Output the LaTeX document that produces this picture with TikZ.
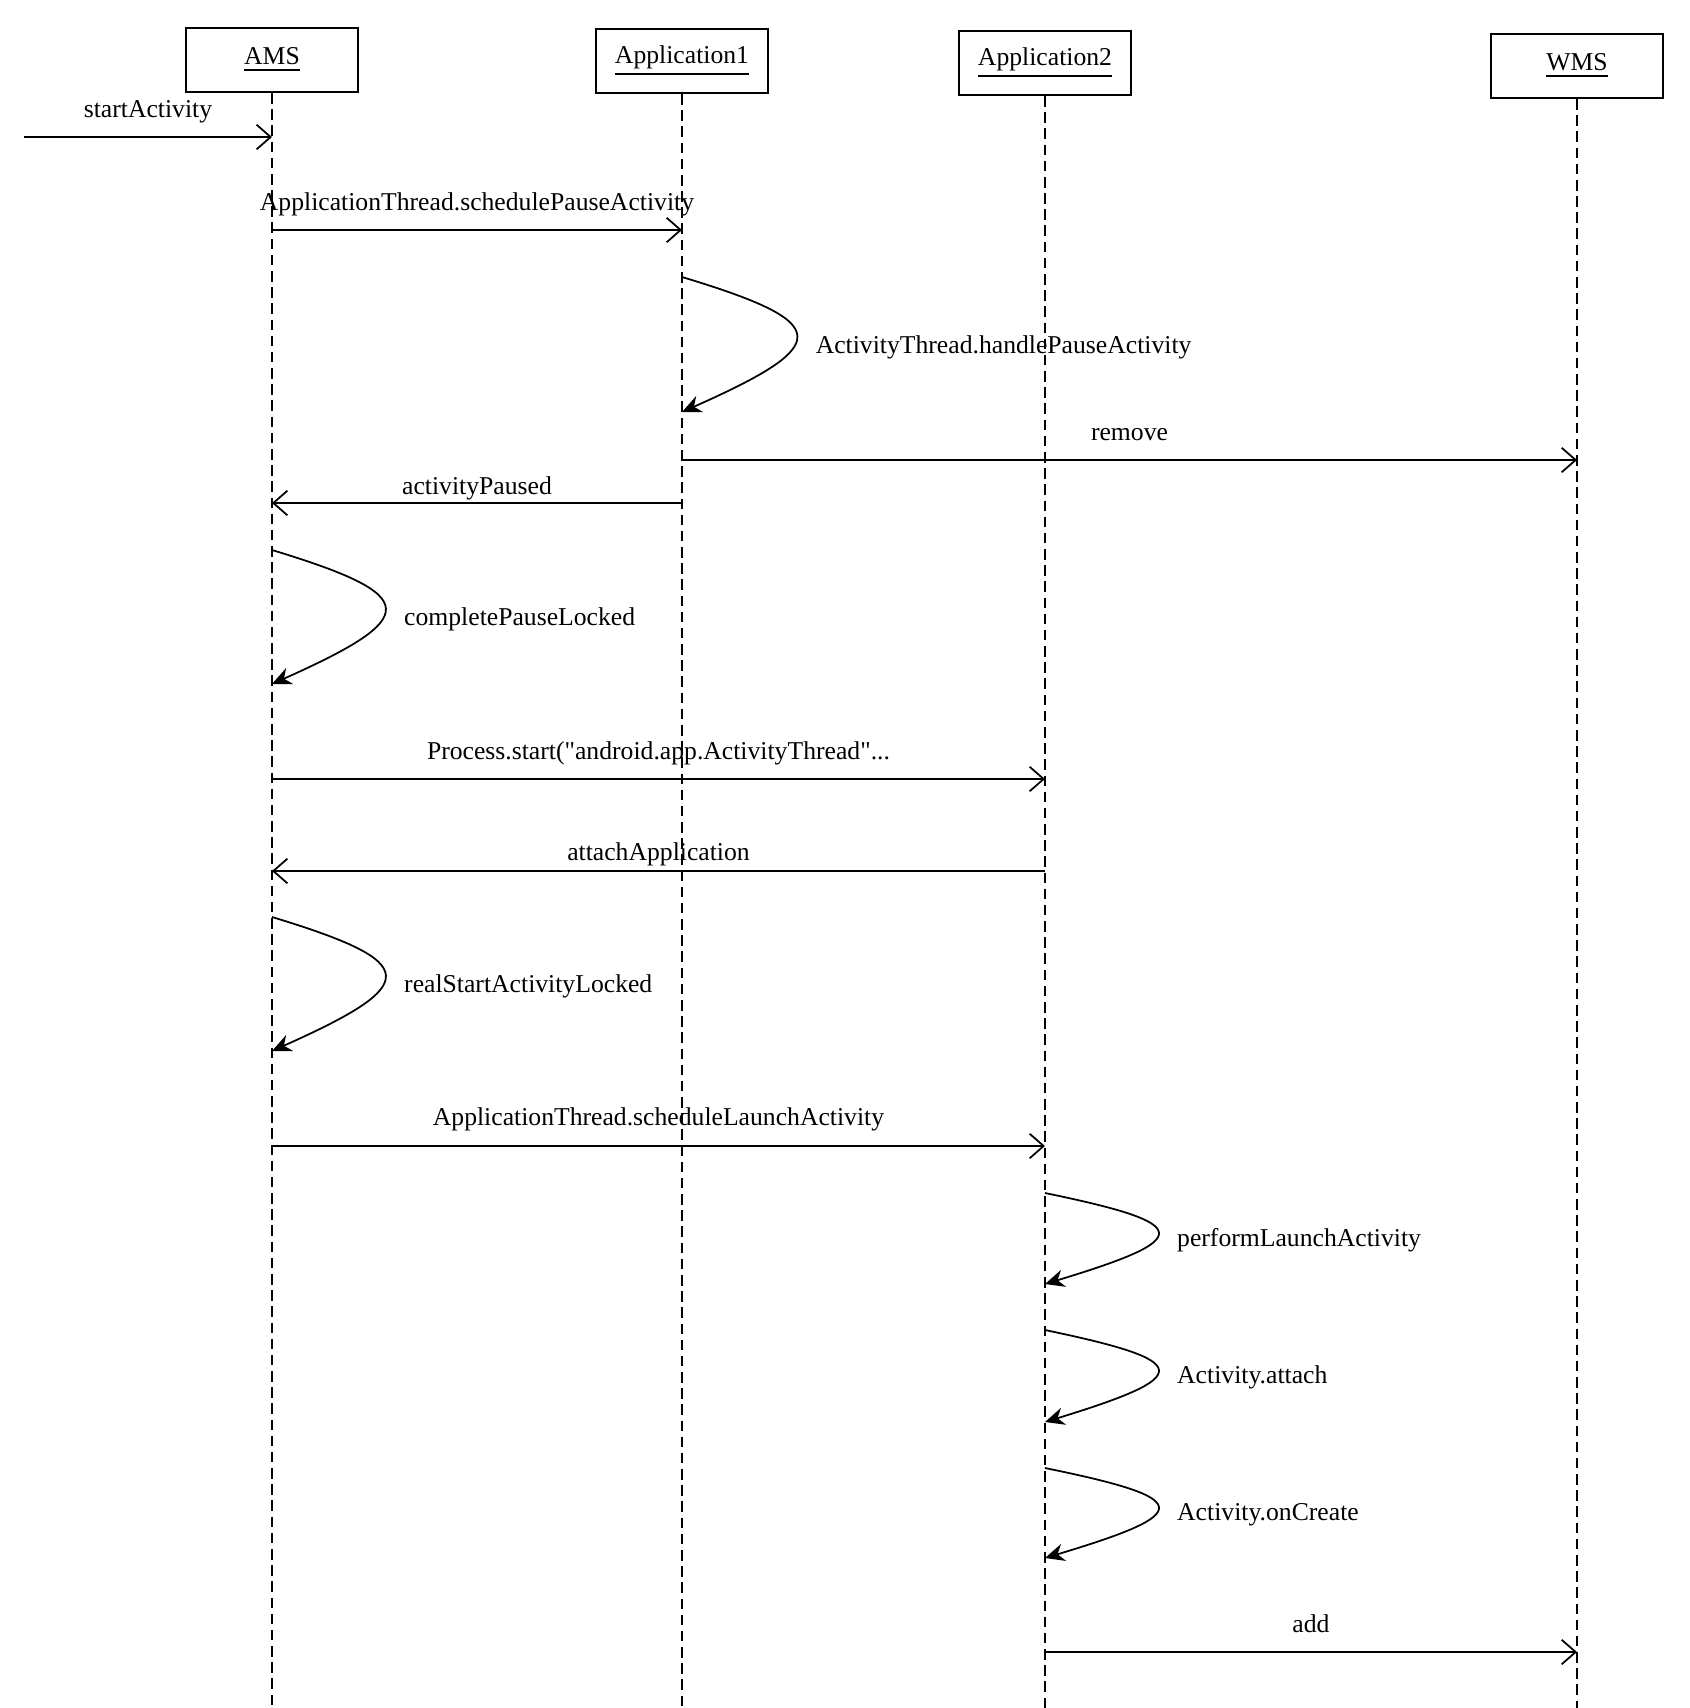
\documentclass[tikz,border=0pt]{standalone}
\usepackage{fontspec}
\setmainfont{Liberation Serif}
\usetikzlibrary{arrows.meta,calc}
\tikzset{
  obj/.style={draw,line width=0.6pt,minimum width=1.72cm,minimum height=0.64cm,inner sep=0pt},
  life/.style={line width=0.5pt,dash pattern=on 3pt off 1.6pt},
  msg/.style={line width=0.5pt,-{Straight Barb[length=4pt,width=7pt]}},
  selfmsg/.style={line width=0.5pt,-{Stealth[length=5.5pt,width=5pt]}},
  lbl/.style={midway,inner sep=0pt}
}
% self call on a lifeline: #1 lifeline, #2 top y, #3 bottom y, #4 bulge, #5 label name, #6 text
\newcommand{\selfcall}[6]{%
  \coordinate (#5a) at (#1|-0,#2);
  \coordinate (#5b) at (#1|-0,#3);
  \draw[selfmsg] (#5a) .. controls ($(#5a)!0.34!(#5b)+(#4,0)$) and ($(#5a)!0.5!(#5b)+(#4,0)$) .. (#5b);
  \node[anchor=west,inner sep=0pt] (#5) at ($(#5a)!0.52!(#5b)+(0.77*#4+16,0)$) {#6};
}

\begin{document}
\begin{tikzpicture}[x=0.01cm,y=-0.01cm,font=\fontsize{7.3}{9}\selectfont]
\useasboundingbox (0,0) rectangle (1690,1708);
% objects
\node[obj] (ams)  at (272,60)  {\underline{AMS}};
\node[obj] (app1) at (682,61)  {\underline{Application1}};
\node[obj] (app2) at (1045,63) {\underline{Application2}};
\node[obj] (wms)  at (1577,66) {\underline{WMS}};
% lifelines
\foreach \o in {ams,app1,app2,wms}
  \draw[life] (\o.south) -- (\o|-0,1708);
% messages
\coordinate (caller) at (24,137);
\draw[msg] (caller) -- (ams|-caller) node[lbl,above=3.6pt] {startActivity};
\draw[msg] (ams|-0,230) -- (app1|-0,230) node[lbl,above=3.6pt] {ApplicationThread.schedulePauseActivity};
\selfcall{app1}{277}{412}{152}{handlepause}{ActivityThread.handlePauseActivity}
\draw[msg] (app1|-0,460) -- (wms|-0,460) node[lbl,above=5.2pt] {remove};
\draw[msg] (app1|-0,503) -- (ams|-0,503) node[lbl,above=0.5pt] {activityPaused};
\selfcall{ams}{550}{684}{150}{completepause}{completePauseLocked}
\draw[msg] (ams|-0,779) -- (app2|-0,779) node[lbl,above=3.6pt] {Process.start(\textquotedbl android.app.ActivityThread\textquotedbl...};
\draw[msg] (app2|-0,871) -- (ams|-0,871) node[lbl,above=1.2pt] {attachApplication};
\selfcall{ams}{917}{1051}{150}{realstart}{realStartActivityLocked}
\draw[msg] (ams|-0,1146) -- (app2|-0,1146) node[lbl,above=3.9pt] {ApplicationThread.scheduleLaunchActivity};
\selfcall{app2}{1193}{1284}{150}{performlaunch}{performLaunchActivity}
\selfcall{app2}{1330}{1422}{150}{attach}{Activity.attach}
\selfcall{app2}{1468}{1558}{150}{oncreate}{Activity.onCreate}
\draw[msg] (app2|-0,1652) -- (wms|-0,1652) node[lbl,above=5.2pt] {add};
\end{tikzpicture}
\end{document}
